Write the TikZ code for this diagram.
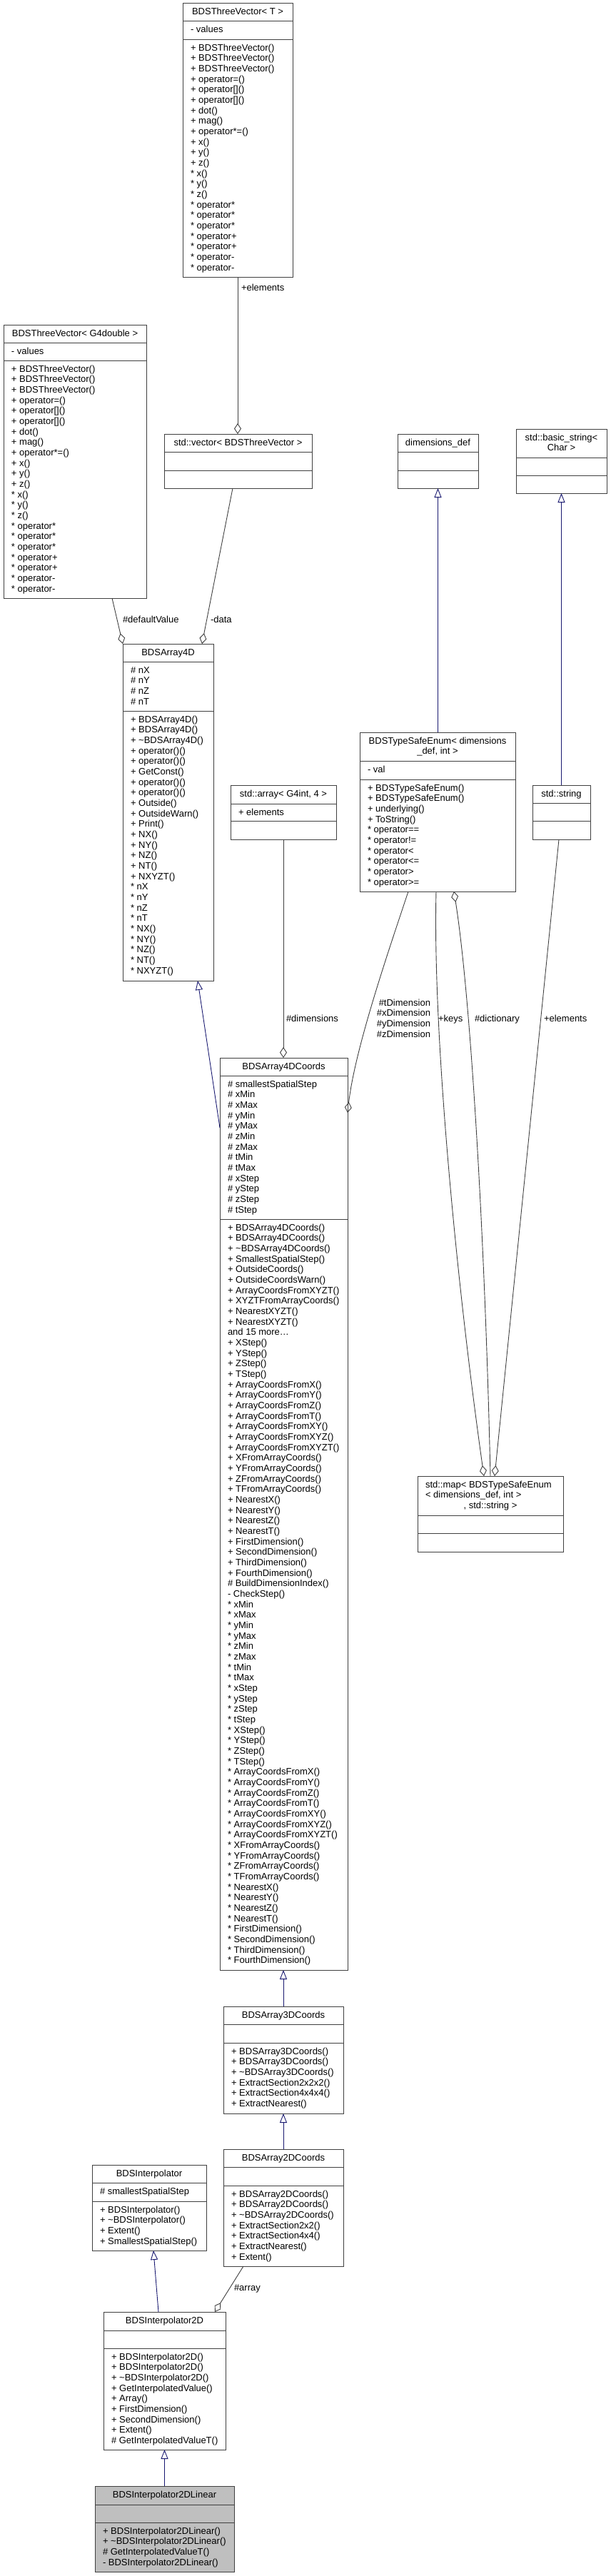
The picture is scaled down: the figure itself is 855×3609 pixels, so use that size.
\documentclass[tikz,border=0pt]{standalone}
\usepackage{fontspec}
\setmainfont{Liberation Sans}
\usetikzlibrary{arrows.meta,calc}
\definecolor{boxc}{HTML}{404040}
\definecolor{edgec}{HTML}{404040}
\definecolor{inhc}{HTML}{191970}
\definecolor{selc}{HTML}{BFBFBF}
\newcommand\fnt{\fontsize{13}{14.67}\selectfont}
\newcommand\tld{\textasciitilde}
\tikzset{
  box/.style={draw=boxc, line width=1pt, inner sep=0pt, outer sep=0pt},
  sepl/.style={draw=boxc, line width=1pt},
  txt/.style={inner sep=0pt, outer sep=0pt, font=\fnt, text=black},
  assoc/.style={draw=edgec, line width=0.9pt},
  inh/.style={draw=inhc, line width=0.9pt, -{Triangle[open,length=13pt,width=10pt]}},
  agg/.style={draw=edgec, line width=0.9pt, -{Diamond[open,length=15pt,width=10pt]}},
}
% name, x1, x2, top, sep1, sep2, bottom, fill
\newcommand\cbox[8]{%
  \node[box, fill=#8, anchor=north west, minimum width={(#3-#2)*1pt}, minimum height={(#7-#4)*1pt}] (#1) at (#2,#4) {};
  \draw[sepl] (#2,#5) -- (#3,#5);
  \draw[sepl] (#2,#6) -- (#3,#6);
}
% prefix, x, first baseline, list
\newcommand\mlines[4]{\foreach \t [count=\i from 0] in {#4}{\node[txt,anchor=base west] (#1-\i) at (#2,{#3+\i*14.67}) {\t};}}
\begin{document}
\begin{tikzpicture}[x=1pt,y=-1pt]
\useasboundingbox (0,0) rectangle (855,3609);
\fill[white] (0,0) rectangle (855,3609);

% ---------- BDSThreeVector< T >
\cbox{tvT}{256}{410}{4}{29}{55}{388}{white}
\node[txt,anchor=base] (tvT-t) at (333,20) {BDSThreeVector< T >};
\mlines{tvTa}{267}{45}{- values}
\mlines{tvTm}{267}{71}{+ BDSThreeVector(),+ BDSThreeVector(),+ BDSThreeVector(),+ operator=(),{+ operator[]()},{+ operator[]()},+ dot(),+ mag(),+ operator*=(),+ x(),+ y(),+ z(),* x(),* y(),* z(),* operator*,* operator*,* operator*,* operator+,* operator+,* operator-,* operator-}

% ---------- BDSThreeVector< G4double >
\cbox{tvG}{5}{205}{455}{480}{505}{838}{white}
\node[txt,anchor=base] (tvG-t) at (105,471) {BDSThreeVector< G4double >};
\mlines{tvGa}{16}{496}{- values}
\mlines{tvGm}{16}{521}{+ BDSThreeVector(),+ BDSThreeVector(),+ BDSThreeVector(),+ operator=(),{+ operator[]()},{+ operator[]()},+ dot(),+ mag(),+ operator*=(),+ x(),+ y(),+ z(),* x(),* y(),* z(),* operator*,* operator*,* operator*,* operator+,* operator+,* operator-,* operator-}

% ---------- std::vector
\cbox{vec}{230}{437}{608}{633}{659}{684}{white}
\node[txt,anchor=base] (vec-t) at (333.5,624) {std::vector< BDSThreeVector >};

% ---------- dimensions_def
\cbox{dd}{557}{670}{608}{633}{659}{684}{white}
\node[txt,anchor=base] (dd-t) at (613.5,624) {dimensions\_def};

% ---------- std::basic_string< Char >
\cbox{bs}{723}{850}{601}{641}{666}{691}{white}
\node[txt,anchor=base] (bs-t1) at (786.5,617) {std::basic\_string<};
\node[txt,anchor=base] (bs-t2) at (786.5,631.67) {Char >};

% ---------- BDSArray4D
\cbox{a4d}{172}{299}{902}{927}{996}{1374}{white}
\node[txt,anchor=base] (a4d-t) at (235.5,918) {BDSArray4D};
\mlines{a4da}{183}{943}{\# nX,\# nY,\# nZ,\# nT}
\mlines{a4dm}{183}{1012}{+ BDSArray4D(),+ BDSArray4D(),+ \tld BDSArray4D(),+ operator()(),+ operator()(),+ GetConst(),+ operator()(),+ operator()(),+ Outside(),+ OutsideWarn(),+ Print(),+ NX(),+ NY(),+ NZ(),+ NT(),+ NXYZT(),* nX,* nY,* nZ,* nT,* NX(),* NY(),* NZ(),* NT(),* NXYZT()}

% ---------- std::array< G4int, 4 >
\cbox{arr}{323}{471}{1100}{1126}{1150}{1176}{white}
\node[txt,anchor=base] (arr-t) at (397,1116) {std::array< G4int, 4 >};
\node[txt,anchor=base west] (arr-a) at (334,1142) {+ elements};

% ---------- BDSTypeSafeEnum
\cbox{tse}{504}{722}{1026}{1066}{1092}{1249}{white}
\node[txt,anchor=base] (tse-t1) at (613,1042) {BDSTypeSafeEnum< dimensions};
\node[txt,anchor=base] (tse-t2) at (613,1056.67) {\_def, int >};
\node[txt,anchor=base west] (tse-a) at (515,1082) {- val};
\mlines{tsem}{515}{1108}{+ BDSTypeSafeEnum(),+ BDSTypeSafeEnum(),+ underlying(),+ ToString(),* operator==,* operator!=,* operator<,* operator<=,* operator>,* operator>=}

% ---------- std::string
\cbox{str}{746}{827}{1100}{1125}{1150}{1176}{white}
\node[txt,anchor=base] (str-t) at (786.5,1116) {std::string};

% ---------- BDSArray4DCoords
\cbox{a4c}{308}{487}{1482}{1507}{1708}{2760}{white}
\node[txt,anchor=base] (a4c-t) at (397.5,1498) {BDSArray4DCoords};
\mlines{a4ca}{319}{1523}{\# smallestSpatialStep,\# xMin,\# xMax,\# yMin,\# yMax,\# zMin,\# zMax,\# tMin,\# tMax,\# xStep,\# yStep,\# zStep,\# tStep}
\mlines{a4cm}{319}{1724}{+ BDSArray4DCoords(),+ BDSArray4DCoords(),+ \tld BDSArray4DCoords(),+ SmallestSpatialStep(),+ OutsideCoords(),+ OutsideCoordsWarn(),+ ArrayCoordsFromXYZT(),+ XYZTFromArrayCoords(),+ NearestXYZT(),+ NearestXYZT(),{and 15 more\ldots},+ XStep(),+ YStep(),+ ZStep(),+ TStep(),+ ArrayCoordsFromX(),+ ArrayCoordsFromY(),+ ArrayCoordsFromZ(),+ ArrayCoordsFromT(),+ ArrayCoordsFromXY(),+ ArrayCoordsFromXYZ(),+ ArrayCoordsFromXYZT(),+ XFromArrayCoords(),+ YFromArrayCoords(),+ ZFromArrayCoords(),+ TFromArrayCoords(),+ NearestX(),+ NearestY(),+ NearestZ(),+ NearestT(),+ FirstDimension(),+ SecondDimension(),+ ThirdDimension(),+ FourthDimension(),\# BuildDimensionIndex(),- CheckStep(),* xMin,* xMax,* yMin,* yMax,* zMin,* zMax,* tMin,* tMax,* xStep,* yStep,* zStep,* tStep,* XStep(),* YStep(),* ZStep(),* TStep(),* ArrayCoordsFromX(),* ArrayCoordsFromY(),* ArrayCoordsFromZ(),* ArrayCoordsFromT(),* ArrayCoordsFromXY(),* ArrayCoordsFromXYZ(),* ArrayCoordsFromXYZT(),* XFromArrayCoords(),* YFromArrayCoords(),* ZFromArrayCoords(),* TFromArrayCoords(),* NearestX(),* NearestY(),* NearestZ(),* NearestT(),* FirstDimension(),* SecondDimension(),* ThirdDimension(),* FourthDimension()}

% ---------- std::map
\cbox{map}{585}{789}{2068}{2123}{2148}{2174}{white}
\node[txt,anchor=base west] (map-t1) at (596,2084) {std::map< BDSTypeSafeEnum};
\node[txt,anchor=base west] (map-t2) at (596,2098.67) {< dimensions\_def, int >};
\node[txt,anchor=base] (map-t3) at (687,2113.33) {, std::string >};

% ---------- BDSArray3DCoords
\cbox{a3c}{313}{481}{2811}{2836}{2862}{2961}{white}
\node[txt,anchor=base] (a3c-t) at (397,2827) {BDSArray3DCoords};
\mlines{a3cm}{324}{2878}{+ BDSArray3DCoords(),+ BDSArray3DCoords(),+ \tld BDSArray3DCoords(),+ ExtractSection2x2x2(),+ ExtractSection4x4x4(),+ ExtractNearest()}

% ---------- BDSArray2DCoords
\cbox{a2c}{313}{481}{3011}{3036}{3062}{3175}{white}
\node[txt,anchor=base] (a2c-t) at (397,3027) {BDSArray2DCoords};
\mlines{a2cm}{324}{3078}{+ BDSArray2DCoords(),+ BDSArray2DCoords(),+ \tld BDSArray2DCoords(),+ ExtractSection2x2(),+ ExtractSection4x4(),+ ExtractNearest(),+ Extent()}

% ---------- BDSInterpolator
\cbox{ip}{129}{289}{3033}{3058}{3084}{3153}{white}
\node[txt,anchor=base] (ip-t) at (209,3049) {BDSInterpolator};
\node[txt,anchor=base west] (ip-a) at (140,3074) {\# smallestSpatialStep};
\mlines{ipm}{140}{3100}{+ BDSInterpolator(),+ \tld BDSInterpolator(),+ Extent(),+ SmallestSpatialStep()}

% ---------- BDSInterpolator2D
\cbox{ip2}{145}{316}{3239}{3265}{3290}{3432}{white}
\node[txt,anchor=base] (ip2-t) at (230.5,3255) {BDSInterpolator2D};
\mlines{ip2m}{156}{3306}{+ BDSInterpolator2D(),+ BDSInterpolator2D(),+ \tld BDSInterpolator2D(),+ GetInterpolatedValue(),+ Array(),+ FirstDimension(),+ SecondDimension(),+ Extent(),\# GetInterpolatedValueT()}

% ---------- BDSInterpolator2DLinear
\cbox{ipl}{133}{328}{3483}{3509}{3534}{3603}{selc}
\node[txt,anchor=base] (ipl-t) at (230.5,3499) {BDSInterpolator2DLinear};
\mlines{iplm}{144}{3550}{+ BDSInterpolator2DLinear(),+ \tld BDSInterpolator2DLinear(),\# GetInterpolatedValueT(),- BDSInterpolator2DLinear()}

% ================= connectors
% composition / usage
\draw[agg] (tvT.south) -- (tvT.south |- vec.north);
\node[txt,anchor=base west] (l-el1) at (338,407) {+elements};

\draw[agg] ($(tvG.south west)+(152,0)$) -- (a4d.north west);
\node[txt,anchor=base west] (l-dv) at (172,872) {\#defaultValue};

\draw[agg] ($(vec.south west)+(96,0)$) -- ($(a4d.north west)+(111,0)$);
\node[txt,anchor=base west] (l-data) at (295,872) {-data};

\draw[agg] (arr.south) -- (arr.south |- a4c.north);
\node[txt,anchor=base west] (l-dim) at (401,1431) {\#dimensions};

\draw[agg] ($(tse.south west)+(68,0)$) .. controls (545,1330) and (497,1470) .. ($(a4c.north east)+(0,77)$);
\node[txt,anchor=base east] (l-td1) at (603,1409) {\#tDimension};
\node[txt,anchor=base east] (l-td2) at (603,1423.67) {\#xDimension};
\node[txt,anchor=base east] (l-td3) at (603,1438.33) {\#yDimension};
\node[txt,anchor=base east] (l-td4) at (603,1453) {\#zDimension};

\draw[agg] ($(tse.south west)+(107,0)$) .. controls (606,1450) and (640,1800) .. ($(map.north west)+(93,0)$);
\node[txt,anchor=base west] (l-keys) at (614,1431) {+keys};

\draw[agg] ($(map.north west)+(102,0)$) .. controls (680,1750) and (660,1400) .. ($(tse.south west)+(132,0)$);
\node[txt,anchor=base west] (l-dict) at (665,1431) {\#dictionary};

\draw[agg] ($(str.south west)+(37,0)$) -- ($(map.north west)+(108,0)$);
\node[txt,anchor=base west] (l-el2) at (762,1431) {+elements};

\draw[agg] ($(a2c.south west)+(28,0)$) -- ($(ip2.north west)+(156,0)$);
\node[txt,anchor=base west] (l-arr) at (328,3209) {\#array};

% inheritance
\draw[inh] (dd.south |- tse.north) -- (dd.south);
\draw[inh] (str.north) -- (bs.south);
\draw[inh] ($(a4c.north west)+(0,98)$) -- ($(a4d.south west)+(105,0)$);
\draw[inh] (a3c.north) -- (a3c.north |- a4c.south);
\draw[inh] (a2c.north) -- (a3c.south);
\draw[inh] ($(ip2.north west)+(77,0)$) -- ($(ip.south west)+(86,0)$);
\draw[inh] (ipl.north) -- (ipl.north |- ip2.south);
\end{tikzpicture}
\end{document}
